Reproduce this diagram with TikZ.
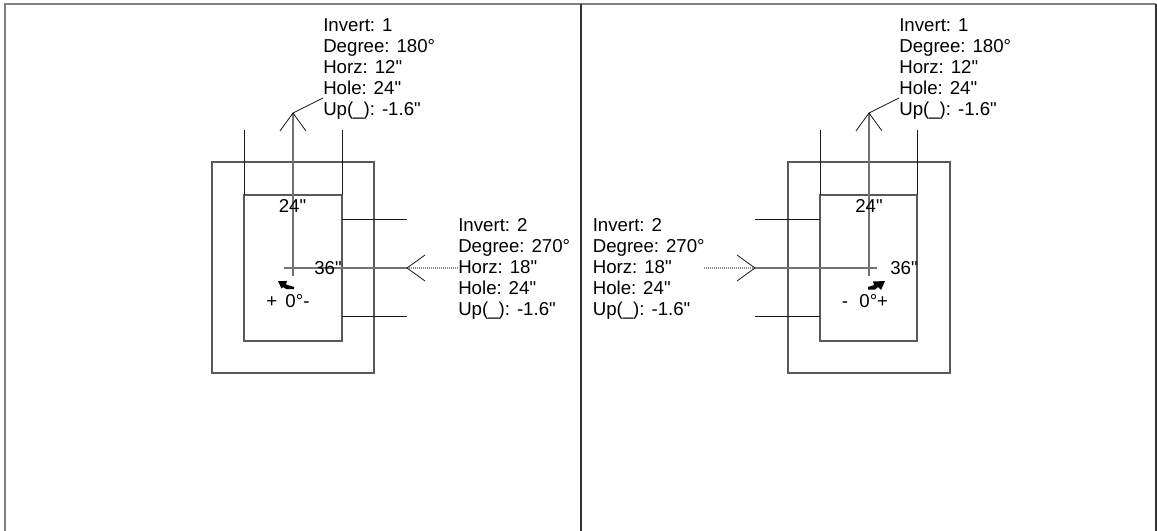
\documentclass[tikz,border=0pt]{standalone}
\usepackage{fontspec}
\setmainfont{Liberation Sans}[Ligatures=TeXOff]
\tikzset{
  x=0.75pt,y=-0.75pt,
  frame/.style={draw=black!50,line width=1.5pt},
  mid line/.style={draw=black!80,line width=1.4pt},
  thin line/.style={draw=black!90,line width=0.6pt},
  box line/.style={draw=black!65,line width=0.85pt},
  axis line/.style={draw=black!55,line width=1pt},
  dot line/.style={draw=black!45,line width=0.9pt,dash pattern=on 0.75pt off 0.75pt},
  lab/.style={inner sep=0pt,anchor=west,font=\fontsize{14pt}{15pt}\selectfont},
  info/.style={inner sep=0pt,anchor=north west,align=left,font=\fontsize{14pt}{15.75pt}\selectfont},
}
\begin{document}
\begin{tikzpicture}
\useasboundingbox (0,0) rectangle (1157,531);
\fill[white] (0,0) rectangle (1157,531);
% frame
\coordinate (fa) at (5,531); \coordinate (fb) at (5,4); \coordinate (fc) at (1156,4); \coordinate (fd) at (1156,531);
\coordinate (ma) at (581,4); \coordinate (mb) at (581,531);
\draw[frame] (fa) -- (fb) -- (fc);
\draw[mid line,line width=0.8pt] (fc) -- (fd);
\draw[mid line] (ma) -- (mb);
% left assembly
\node[info] (l1) at (323,18.5) {Invert: 1\\Degree: 180°\\Horz: 12"\\Hole: 24"\\Up(\_): -1.6"};
\node[info] (l2) at (458,218.5) {Invert: 2\\Degree: 270°\\Horz: 18"\\Hole: 24"\\Up(\_): -1.6"};
\draw[box line] (212,162) rectangle (374,373);
\draw[box line] (244,195) rectangle (342,341);
\draw[thin line] (244,130) -- (244,195);
\draw[thin line] (342,130) -- (342,195);
\draw[thin line] (342,219) -- (407,219);
\draw[thin line] (342,316.5) -- (407,316.5);
\coordinate (lt) at (293,113); \coordinate (lb) at (293,276);
\coordinate (lh) at (407,268); \coordinate (lc) at (284,268); \coordinate (ld) at (458,268);
\coordinate (lk) at (323,98);
\draw[axis line] (lb) -- (lt);
\draw[axis line] (lc) -- (lh);
\draw[dot line] (lh) -- (ld);
\draw[thin line] (280,131) -- (lt) -- (306,131);
\draw[thin line] (425,255) -- (lh) -- (425,281);
\draw[thin line] (lt) -- (lk);
\node[lab] (l24) at (278.5,206) {24"};
\node[lab] (l36) at (314,268) {36"};
\node[lab] (l0) at (266,301) {+ \,0°-};
\fill (278,281) -- (287,281) -- (286,284.5) -- (294,287) -- (294,289) -- (286,289) -- (283,287) -- (281.5,288.5) -- cycle;
% right assembly
\node[info] (r1) at (899,18.5) {Invert: 1\\Degree: 180°\\Horz: 12"\\Hole: 24"\\Up(\_): -1.6"};
\node[info] (r2) at (592.5,218.5) {Invert: 2\\Degree: 270°\\Horz: 18"\\Hole: 24"\\Up(\_): -1.6"};
\draw[box line] (788,162) rectangle (950,373);
\draw[box line] (820,195) rectangle (917,341);
\draw[thin line] (820,130) -- (820,195);
\draw[thin line] (917,130) -- (917,195);
\draw[thin line] (755,219) -- (820,219);
\draw[thin line] (755,316.5) -- (820,316.5);
\coordinate (rt) at (869,113); \coordinate (rb) at (869,276);
\coordinate (rh) at (755,268); \coordinate (rc) at (877,268); \coordinate (rd) at (704,268);
\coordinate (rk) at (899,98);
\draw[axis line] (rb) -- (rt);
\draw[axis line] (rc) -- (rh);
\draw[dot line] (rh) -- (rd);
\draw[thin line] (856,131) -- (rt) -- (882,131);
\draw[thin line] (737,255) -- (rh) -- (737,281);
\draw[thin line] (rt) -- (rk);
\node[lab] (r24) at (855,206) {24"};
\node[lab] (r36) at (890,268) {36"};
\node[lab] (r0) at (841.5,301) {-\, \,0°+};
\fill (885,281) -- (881,290) -- (878,287) -- (875,289.5) -- (868,289.5) -- (868,287) -- (874,285) -- (873,281.5) -- cycle;
\end{tikzpicture}
\end{document}
